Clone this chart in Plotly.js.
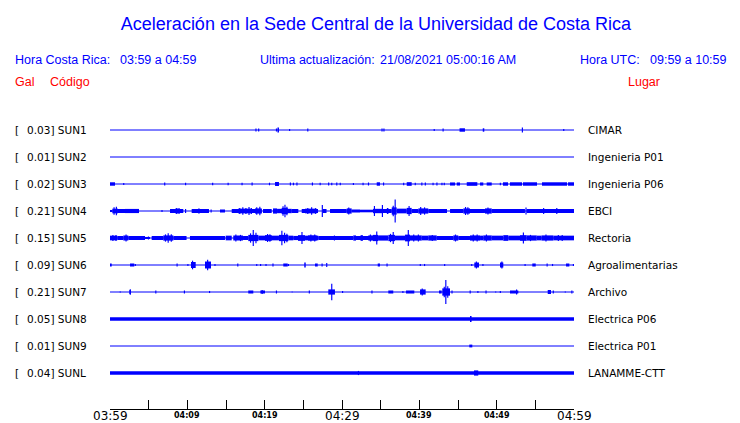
<!DOCTYPE html>
<html><head><meta charset="utf-8">
<script src="https://cdn.plot.ly/plotly-3.0.1.min.js"></script>
<style>html,body{margin:0;padding:0;background:#fff}#chart{width:740px;height:423px}</style>
</head><body><div id="chart"></div>
<script>
// ---------------- DATA ----------------
const codes  = ['SUN1','SUN2','SUN3','SUN4','SUN5','SUN6','SUN7','SUN8','SUN9','SUNL'];
const peaks  = [0.03, 0.01, 0.02, 0.21, 0.15, 0.09, 0.21, 0.05, 0.01, 0.04];
const places = ['CIMAR','Ingenieria P01','Ingenieria P06','EBCI','Rectoria','Agroalimentarias','Archivo','Electrica P06','Electrica P01','LANAMME-CTT'];
const windowMinutes = [0, 60];                       // 03:59 -> 04:59
const tickMinutes = [0, 10, 20, 30, 40, 50, 60];
const tickLabels  = ['03:59','04:09','04:19','04:29','04:39','04:49','04:59'];
const majorLabel  = [true, false, false, true, false, false, true];
const minorTickMinutes = [0,5,10,15,20,25,30,35,40,45,50,55,60];

// events: [start minute, end minute, half amplitude (gal)]
const evSUN1 = [[18.80,18.95,0.029],[19.15,19.30,0.029],[21.45,21.60,0.029],[21.65,21.85,0.048],[23.15,23.30,0.020],[25.50,25.65,0.029],[35.10,35.25,0.029],[35.35,35.50,0.029],[41.85,42.00,0.020],[43.00,43.15,0.029],[45.20,45.90,0.033],[48.20,48.40,0.033],[53.25,53.40,0.048],[58.60,58.75,0.020]];
const evSUN2 = [];
const evSUN3 = [[0.00,0.65,0.033],[1.70,1.85,0.020],[7.00,7.15,0.029],[9.70,9.85,0.025],[13.20,13.35,0.025],[15.20,15.35,0.025],[17.00,17.15,0.025],[18.30,18.45,0.029],[20.55,20.70,0.025],[21.34,21.85,0.038],[23.25,23.40,0.029],[23.65,23.80,0.025],[24.10,24.25,0.029],[26.10,26.25,0.029],[27.10,27.25,0.025],[28.20,28.35,0.029],[28.60,28.75,0.025],[29.25,29.40,0.029],[29.70,29.85,0.025],[31.40,31.55,0.020],[32.65,32.80,0.025],[33.35,33.50,0.029],[34.49,34.91,0.033],[35.30,35.45,0.029],[37.90,38.05,0.025],[38.37,39.01,0.035],[39.40,39.55,0.025],[40.25,40.40,0.029],[40.70,40.85,0.029],[41.70,41.85,0.025],[42.20,42.35,0.029],[42.85,43.00,0.025],[43.15,43.30,0.025],[43.97,44.62,0.030],[44.84,45.26,0.030],[46.13,47.50,0.035],[47.85,48.27,0.030],[48.71,49.36,0.030],[50.40,50.55,0.025],[50.82,51.47,0.033],[51.72,53.28,0.033],[53.40,55.22,0.033],[55.86,59.10,0.033],[59.23,60.00,0.033]];
const evSUN4 = [[0.00,0.30,0.020],[0.30,1.03,0.045],[0.45,0.60,0.070],[0.75,0.90,0.080],[1.03,1.94,0.038],[1.94,3.75,0.040],[6.65,6.80,0.020],[7.76,9.48,0.038],[8.41,9.05,0.045],[8.55,8.70,0.060],[8.85,9.00,0.055],[9.70,9.85,0.038],[10.56,12.80,0.038],[11.40,11.60,0.048],[13.00,13.15,0.029],[14.22,14.87,0.029],[15.74,19.62,0.038],[16.55,18.36,0.045],[16.70,16.85,0.060],[17.10,17.25,0.070],[17.50,17.65,0.060],[17.90,18.05,0.077],[18.20,18.35,0.060],[18.75,19.62,0.050],[18.90,19.05,0.070],[19.30,19.45,0.080],[19.78,20.91,0.038],[21.08,21.60,0.050],[21.60,23.50,0.042],[22.20,22.98,0.060],[22.30,22.45,0.090],[22.55,22.70,0.120],[22.80,22.95,0.080],[23.50,24.35,0.038],[24.79,26.90,0.038],[25.22,26.73,0.045],[25.50,25.65,0.060],[26.00,26.15,0.070],[26.50,26.65,0.055],[27.38,27.53,0.115],[27.53,28.00,0.038],[28.45,30.61,0.038],[30.61,31.25,0.050],[30.80,30.95,0.067],[31.25,32.33,0.029],[32.33,34.01,0.025],[34.01,35.30,0.042],[34.12,34.27,0.096],[35.15,35.30,0.115],[35.30,36.43,0.038],[35.80,36.00,0.058],[36.43,37.07,0.070],[36.55,36.70,0.100],[36.80,36.95,0.220],[37.07,38.37,0.045],[38.37,39.01,0.060],[38.60,38.75,0.096],[39.01,39.87,0.038],[39.87,41.16,0.050],[40.10,40.25,0.077],[40.60,40.75,0.070],[41.16,43.58,0.038],[43.97,45.69,0.038],[45.69,46.55,0.050],[45.90,46.05,0.077],[46.20,46.35,0.070],[46.55,48.49,0.038],[48.49,49.36,0.050],[48.80,48.95,0.067],[49.36,53.66,0.038],[53.72,53.87,0.067],[53.87,60.00,0.038],[56.00,56.15,0.058],[57.70,57.85,0.058]];
const evSUN5 = [[0.00,0.94,0.045],[0.30,0.45,0.060],[0.70,0.85,0.058],[0.94,1.72,0.038],[1.72,2.37,0.048],[2.00,2.15,0.067],[2.37,4.53,0.038],[4.53,5.17,0.020],[4.90,5.05,0.029],[5.39,6.89,0.038],[6.89,8.19,0.050],[7.10,7.25,0.070],[7.45,7.60,0.090],[7.85,8.00,0.070],[8.19,9.90,0.038],[10.34,14.87,0.038],[14.96,15.74,0.045],[15.94,17.20,0.048],[16.20,16.35,0.067],[16.80,16.95,0.060],[17.20,17.88,0.038],[17.88,19.18,0.060],[18.10,18.25,0.090],[18.45,18.60,0.154],[18.80,18.95,0.100],[19.18,21.85,0.045],[20.04,20.91,0.055],[20.30,20.45,0.077],[20.60,20.75,0.070],[21.85,23.06,0.060],[22.15,22.30,0.140],[22.50,22.65,0.100],[22.80,22.95,0.080],[23.06,23.70,0.045],[23.70,25.22,0.040],[24.31,25.22,0.055],[24.75,24.90,0.115],[25.22,26.94,0.045],[25.60,26.73,0.050],[25.90,26.05,0.067],[26.40,26.55,0.065],[26.94,31.46,0.038],[28.95,29.10,0.048],[31.46,31.81,0.050],[31.81,34.01,0.038],[32.40,32.70,0.055],[33.40,34.01,0.050],[33.60,33.75,0.067],[34.01,34.66,0.060],[34.42,34.57,0.125],[34.66,35.95,0.050],[35.99,36.85,0.060],[36.20,36.35,0.080],[36.55,36.70,0.115],[36.85,38.15,0.045],[38.15,38.79,0.065],[38.50,38.65,0.154],[38.79,40.31,0.050],[39.20,39.35,0.067],[39.80,39.95,0.067],[40.31,41.16,0.045],[41.16,42.25,0.050],[41.60,41.75,0.060],[42.25,44.39,0.038],[44.39,45.04,0.050],[44.60,44.75,0.067],[45.04,46.55,0.038],[46.55,47.85,0.050],[46.90,47.05,0.067],[47.40,47.55,0.065],[47.85,48.27,0.045],[48.27,49.36,0.050],[48.60,48.75,0.067],[49.36,50.86,0.045],[50.86,51.51,0.055],[51.51,53.02,0.045],[53.02,53.88,0.055],[53.38,53.53,0.106],[53.88,55.18,0.050],[54.30,54.45,0.060],[55.18,55.82,0.045],[55.82,57.32,0.050],[56.30,56.45,0.067],[57.32,60.00,0.045],[57.90,58.05,0.058],[58.40,58.55,0.058]];
const evSUN6 = [[0.00,0.22,0.029],[2.59,3.14,0.029],[3.20,3.35,0.020],[8.60,8.75,0.029],[10.00,10.15,0.020],[10.47,11.08,0.058],[10.60,10.75,0.083],[12.28,13.06,0.067],[12.55,12.70,0.100],[13.50,13.65,0.020],[16.45,16.60,0.029],[18.90,19.05,0.020],[19.40,19.55,0.020],[20.10,20.25,0.020],[21.00,21.15,0.029],[22.41,22.98,0.029],[23.00,23.15,0.020],[25.12,25.31,0.048],[26.51,26.86,0.029],[27.35,27.50,0.029],[27.95,28.10,0.038],[34.62,34.91,0.029],[35.75,35.90,0.029],[40.05,40.20,0.020],[40.60,40.75,0.020],[43.20,43.35,0.020],[46.70,46.85,0.020],[47.11,47.72,0.048],[47.30,47.45,0.067],[48.15,48.30,0.020],[50.43,50.86,0.048],[50.60,50.75,0.067],[53.60,53.75,0.020],[54.61,55.05,0.029],[56.45,56.60,0.029],[57.15,57.30,0.020],[58.97,59.40,0.029],[59.85,60.00,0.020]];
const evSUN7 = [[1.25,1.40,0.010],[2.50,2.72,0.038],[2.55,2.70,0.052],[5.85,6.00,0.029],[9.55,9.70,0.029],[12.80,12.95,0.020],[17.88,18.53,0.029],[19.44,20.04,0.029],[19.60,19.75,0.038],[21.45,21.60,0.029],[23.50,23.60,0.010],[25.70,25.85,0.029],[28.23,29.09,0.050],[28.60,28.75,0.160],[30.00,30.15,0.020],[33.80,33.95,0.029],[35.99,36.63,0.029],[37.80,37.95,0.020],[38.28,39.35,0.029],[40.09,40.82,0.050],[40.30,40.45,0.067],[42.54,42.89,0.029],[42.97,43.97,0.070],[43.15,43.30,0.100],[43.35,43.50,0.230],[43.60,43.75,0.110],[44.15,44.30,0.029],[46.50,46.65,0.029],[47.50,47.65,0.020],[48.55,48.70,0.029],[49.80,49.95,0.010],[50.40,50.55,0.020],[51.72,52.80,0.029],[52.50,52.65,0.048],[56.60,57.03,0.038],[57.25,57.40,0.029],[58.80,58.95,0.010],[59.65,59.80,0.029]];
const evSUN8 = [[0.00,60.00,0.035],[46.55,46.75,0.058]];
const evSUN9 = [[46.46,46.85,0.027]];
const evSUNL = [[0.00,60.00,0.033],[32.05,32.20,0.040],[47.07,47.62,0.050]];

const headerTexts = {
  hcr: 'Hora Costa Rica:', hcrVal: '03:59 a 04:59',
  upd: 'Ultima actualización:', updVal: '21/08/2021 05:00:16 AM',
  utc: 'Hora UTC:', utcVal: '09:59 a 10:59',
  gal: 'Gal', code: 'Código', place: 'Lugar'
};
const titleText = 'Aceleración en la Sede Central de la Universidad de Costa Rica';

// ---------------- DRAWING ----------------
const events = [evSUN1, evSUN2, evSUN3, evSUN4, evSUN5, evSUN6, evSUN7, evSUN8, evSUN9, evSUNL];
const BLUE = '#0000ff', RED = '#ff0000';
const W = 740, H = 423;
const M = {l: 110, r: 166, t: 103, b: 14};
const plotW = W - M.l - M.r, plotH = H - M.t - M.b;
const ROW_PX = 27, GAL_PX = 52;
const yTop = (130 - M.t) / ROW_PX;
const yBot = yTop - plotH / ROW_PX;
const galToRow = GAL_PX / ROW_PX;
const px2paperX = px => (px - M.l) / plotW;
const px2paperY = py => (H - M.b - py) / plotH;

const traces = [];
events.forEach((ev, i) => {
  const row = -i;
  traces.push({type: 'scatter', mode: 'lines', x: windowMinutes, y: [row, row],
    line: {color: BLUE, width: 1}, hoverinfo: 'skip', showlegend: false});
  if (ev.length) {
    traces.push({type: 'bar', name: codes[i],
      x: ev.map(e => (e[0] + e[1]) / 2),
      width: ev.map(e => e[1] - e[0]),
      base: ev.map(e => row - e[2] * galToRow),
      y: ev.map(e => 2 * e[2] * galToRow),
      marker: {color: BLUE, line: {width: 0}}, hoverinfo: 'skip', showlegend: false});
  }
});

const ann = [];
const rowFont = {family: 'DejaVu Sans', size: 10.5, color: '#000'};
codes.forEach((c, i) => {
  ann.push({xref: 'paper', yref: 'y', x: px2paperX(12.5), y: -i, text: '[', xanchor: 'left', yanchor: 'middle', showarrow: false, font: rowFont});
  ann.push({xref: 'paper', yref: 'y', x: px2paperX(25), y: -i, text: peaks[i].toFixed(2) + '] ' + c, xanchor: 'left', yanchor: 'middle', showarrow: false, font: rowFont});
  ann.push({xref: 'paper', yref: 'y', x: px2paperX(585.5), y: -i, text: places[i], xanchor: 'left', yanchor: 'middle', showarrow: false, font: rowFont});
});
tickMinutes.forEach((m, i) => {
  const big = majorLabel[i];
  ann.push({xref: 'x', yref: 'paper', x: m, y: px2paperY(big ? 416 : 415.5), text: tickLabels[i],
    xanchor: 'center', yanchor: 'middle', showarrow: false, borderpad: 0,
    font: big ? {family: 'DejaVu Sans', size: 12, color: '#000'} : {family: 'DejaVu Sans', size: 8, color: '#000', weight: 'bold'}});
});
const hFont = {family: 'Liberation Sans', size: 12.5, color: BLUE};
const rFont = {family: 'Liberation Sans', size: 12.5, color: RED};
[[headerTexts.hcr, 13, 60, hFont], [headerTexts.hcrVal, 118, 60, hFont],
 [headerTexts.upd, 258, 60, hFont], [headerTexts.updVal, 378, 60, hFont],
 [headerTexts.utc, 578, 60, hFont], [headerTexts.utcVal, 648, 60, hFont],
 [headerTexts.gal, 13, 82, rFont], [headerTexts.code, 48, 82, rFont], [headerTexts.place, 626, 82, rFont]
].forEach(h => ann.push({xref: 'paper', yref: 'paper', x: px2paperX(h[1]), y: px2paperY(h[2]), text: h[0],
  xanchor: 'left', yanchor: 'middle', showarrow: false, font: h[3]}));

const layout = {
  width: W, height: H, margin: M, paper_bgcolor: '#fff', plot_bgcolor: '#fff',
  showlegend: false, barmode: 'overlay', hovermode: false,
  title: {text: titleText, font: {family: 'Liberation Sans', size: 18, color: BLUE},
    x: 376 / W, xanchor: 'center', xref: 'container', y: 1 - 23.5 / H, yanchor: 'middle', yref: 'container'},
  xaxis: {range: windowMinutes, showgrid: false, zeroline: false, showline: true, linecolor: '#000', linewidth: 1,
    tickmode: 'array', tickvals: minorTickMinutes, ticks: 'inside', ticklen: 9, tickwidth: 1, tickcolor: '#000',
    showticklabels: false, fixedrange: true},
  yaxis: {range: [yBot, yTop], visible: false, showgrid: false, zeroline: false, fixedrange: true},
  annotations: ann
};
Plotly.newPlot('chart', traces, layout, {staticPlot: true, displayModeBar: false});
</script></body></html>
